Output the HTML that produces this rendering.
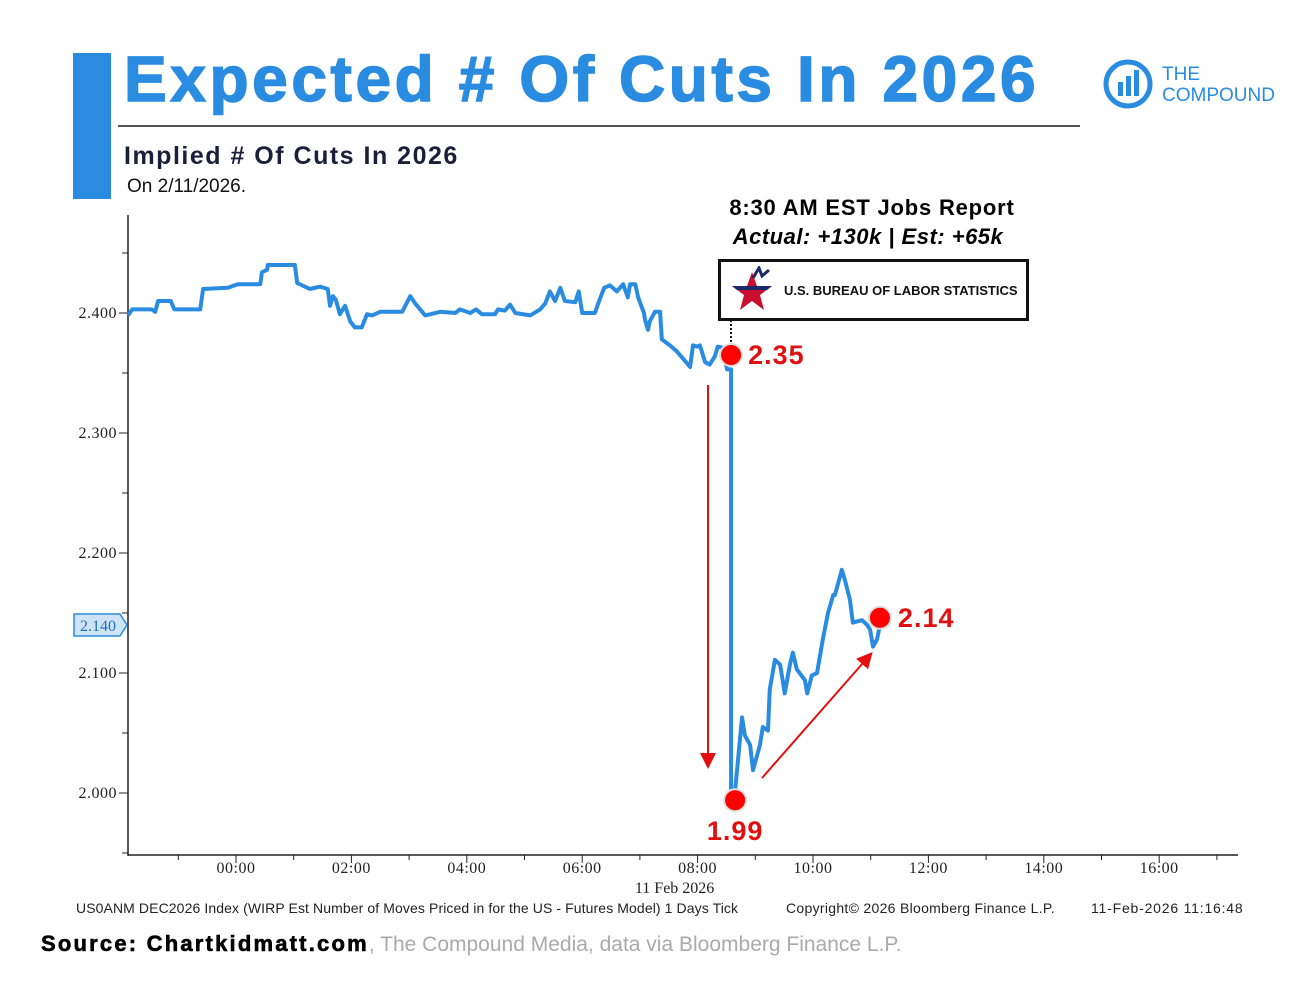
<!DOCTYPE html>
<html><head><meta charset="utf-8"><style>
body{margin:0;background:#fff;width:1312px;height:984px;overflow:hidden;font-family:"Liberation Sans",sans-serif;position:relative}
.a{position:absolute;white-space:nowrap}
</style></head><body>
<div class="a" style="left:73px;top:53px;width:38px;height:146px;background:#2a8ce0"></div>
<div class="a" style="left:124px;top:42px;font-size:64px;font-weight:bold;color:#2a8ce0;letter-spacing:3.6px;-webkit-text-stroke:1.5px #2a8ce0">Expected # Of Cuts In 2026</div>
<div class="a" style="left:118px;top:125px;width:962px;height:2px;background:#555"></div>
<div class="a" style="left:1100px;top:56px;width:190px;height:56px">
<svg width="60" height="56" viewBox="0 0 60 56"><circle cx="28" cy="28" r="22" fill="none" stroke="#2a8ce0" stroke-width="5"/><rect x="18" y="26" width="5" height="14" fill="#2a8ce0"/><rect x="26" y="20" width="5" height="20" fill="#2a8ce0"/><rect x="34" y="14" width="5" height="26" fill="#2a8ce0"/></svg>
<div class="a" style="left:62px;top:8px;font-size:19px;color:#2a8ce0;line-height:21px">THE<br>COMPOUND</div></div>
<div class="a" style="left:124px;top:142px;font-size:25px;font-weight:bold;color:#1a1f3a;letter-spacing:1.5px">Implied # Of Cuts In 2026</div>
<div class="a" style="left:127px;top:176px;font-size:19px;color:#111">On 2/11/2026.</div>
<div class="a" style="left:872px;top:195px;transform:translateX(-50%);font-size:22px;font-weight:bold;letter-spacing:0.8px">8:30 AM EST Jobs Report</div>
<div class="a" style="left:868px;top:224px;transform:translateX(-50%);font-size:22px;font-weight:bold;font-style:italic;letter-spacing:0.5px">Actual: +130k | Est: +65k</div>
<div class="a" style="left:718px;top:259px;width:305px;height:56px;border:3px solid #111;background:#fff">
<svg class="a" style="left:8px;top:4px" width="46" height="48" viewBox="0 0 46 48"><polygon points="23,6 28,20 43,20 31,29 35,44 23,35 11,44 15,29 3,20 18,20" fill="#c8102e"/><polygon points="3,20 43,20 38,24 8,24" fill="#1b2a6b"/><path d="M24 12 L30 2 L33 10 L40 4" stroke="#1b2a6b" stroke-width="3" fill="none"/></svg>
<div class="a" style="left:63px;top:21px;font-size:13px;font-weight:bold;color:#111">U.S. BUREAU OF LABOR STATISTICS</div></div>
<svg class="a" style="left:0;top:0" width="1312" height="984" id="chart"></svg>
<div class="a" style="left:76px;top:900px;font-size:14px;color:#222;letter-spacing:0.1px">US0ANM DEC2026 Index (WIRP Est Number of Moves Priced in for the US - Futures Model) 1 Days Tick</div>
<div class="a" style="left:786px;top:900px;font-size:14px;color:#222;letter-spacing:0.3px">Copyright© 2026 Bloomberg Finance L.P.</div>
<div class="a" style="left:1091px;top:900px;font-size:14px;color:#222;letter-spacing:0.8px">11-Feb-2026 11:16:48</div>
<div class="a" style="left:41px;top:931px;font-size:21px;color:#aaa"><b style="color:#000;font-size:22px;letter-spacing:2.2px;-webkit-text-stroke:0.6px #000">Source: Chartkidmatt.com</b>, The Compound Media, data via Bloomberg Finance L.P.</div>
<script>
const yTicks=[2.0,2.1,2.2,2.3,2.4];
const xTickHours=[0,2,4,6,8,10,12,14,16];
const xTickLabels=["00:00","02:00","04:00","06:00","08:00","10:00","12:00","14:00","16:00"];
const times=[-1.87,-1.80,-1.46,-1.40,-1.35,-1.13,-1.07,-0.62,-0.57,-0.14,0.03,0.42,0.45,0.54,0.55,1.02,1.06,1.28,1.46,1.59,1.63,1.68,1.73,1.80,1.89,1.98,2.06,2.18,2.27,2.36,2.50,2.88,3.02,3.12,3.28,3.54,3.80,3.88,4.06,4.16,4.26,4.49,4.54,4.66,4.75,4.84,5.10,5.27,5.36,5.44,5.53,5.62,5.70,5.88,5.94,6.00,6.22,6.27,6.38,6.48,6.60,6.71,6.79,6.83,6.92,6.97,7.07,7.09,7.14,7.17,7.26,7.35,7.38,7.52,7.64,7.73,7.80,7.87,7.92,7.99,8.04,8.13,8.21,8.30,8.35,8.44,8.51,8.58,8.58,8.58,8.65,8.77,8.82,8.91,8.96,9.08,9.13,9.22,9.25,9.34,9.43,9.51,9.60,9.65,9.72,9.86,9.90,9.98,10.07,10.17,10.26,10.35,10.38,10.50,10.55,10.64,10.69,10.85,10.94,10.99,11.04,11.11,11.16];
const values=[2.398,2.403,2.403,2.401,2.410,2.410,2.403,2.403,2.420,2.421,2.424,2.424,2.434,2.436,2.440,2.440,2.425,2.420,2.422,2.420,2.406,2.414,2.411,2.399,2.406,2.393,2.388,2.388,2.399,2.398,2.401,2.401,2.414,2.407,2.398,2.401,2.400,2.403,2.400,2.403,2.399,2.399,2.403,2.402,2.407,2.400,2.398,2.403,2.408,2.418,2.410,2.421,2.410,2.409,2.418,2.400,2.400,2.407,2.421,2.423,2.418,2.424,2.413,2.424,2.424,2.413,2.400,2.394,2.386,2.393,2.401,2.401,2.378,2.373,2.368,2.363,2.359,2.355,2.373,2.372,2.373,2.359,2.357,2.364,2.372,2.371,2.353,2.353,2.119,2.002,2.002,2.063,2.048,2.040,2.019,2.040,2.055,2.052,2.086,2.111,2.107,2.083,2.107,2.117,2.103,2.094,2.083,2.098,2.100,2.128,2.150,2.165,2.165,2.186,2.178,2.161,2.142,2.144,2.140,2.136,2.122,2.128,2.140];
const markers=[[8.58,2.365,"2.35"],[8.65,1.994,"1.99"],[11.16,2.146,"2.14"]];
const NS="http://www.w3.org/2000/svg",svg=document.getElementById("chart");
const X=h=>236+h*57.7, Y=v=>313+(2.4-v)*1200;
function el(t,a){const e=document.createElementNS(NS,t);for(const k in a)e.setAttribute(k,a[k]);svg.appendChild(e);return e;}
let e=el("line",{x1:128,y1:215,x2:128,y2:856,stroke:"#222","stroke-width":1.5});


e=el("line",{x1:128,y1:855,x2:1238,y2:855,stroke:"#222","stroke-width":1.5});


for(let v=1.95;v<=2.451;v+=0.05){el("line",{x1:122,x2:128,y1:Y(v),y2:Y(v),stroke:"#222"});}
yTicks.forEach(v=>{el("line",{x1:119,x2:128,y1:Y(v),y2:Y(v),stroke:"#222"});
const t=el("text",{x:117,y:Y(v)+5,"text-anchor":"end","font-family":"Liberation Serif,serif","font-size":16,"letter-spacing":0.5,fill:"#222"});t.textContent=v.toFixed(3);

});
for(let h=-1;h<=17;h++){el("line",{x1:X(h),x2:X(h),y1:855,y2:h%2==0?863:860,stroke:"#222"});}
xTickHours.forEach((h,i)=>{const t=el("text",{x:X(h),y:873,"text-anchor":"middle","font-family":"Liberation Serif,serif","font-size":16,"letter-spacing":0.5,fill:"#222"});t.textContent=xTickLabels[i];

});
e=el("text",{x:X(8)-23,y:893,"text-anchor":"middle","font-family":"Liberation Serif,serif","font-size":16,fill:"#222"});e.textContent="11 Feb 2026";


const last=values[values.length-1];
e=el("path",{d:`M74 ${Y(last)-11}H120L127 ${Y(last)}L120 ${Y(last)+11}H74Z`,fill:"#cfe3f7",stroke:"#2a8ce0","stroke-width":1.5});


e=el("text",{x:98,y:Y(last)+6,"text-anchor":"middle","font-family":"Liberation Serif,serif","font-size":16,fill:"#1d6fc0"});e.textContent=last.toFixed(3);
e=el("polyline",{points:times.map((t,i)=>X(t)+","+Y(values[i])).join(" "),fill:"none",stroke:"#2a8ce0","stroke-width":4,"stroke-linejoin":"round"});


e=el("line",{x1:731,y1:320,x2:731,y2:345,stroke:"#111","stroke-width":2,"stroke-dasharray":"2,2"});
el("defs",{}).innerHTML='<marker id="ah" markerWidth="8" markerHeight="8" refX="6" refY="4" orient="auto"><path d="M0,0L8,4L0,8Z" fill="#e01010"/></marker>';
e=el("line",{x1:708,y1:385,x2:708,y2:765,stroke:"#e01010","stroke-width":2,"marker-end":"url(#ah)"});


e=el("line",{x1:762,y1:778,x2:870,y2:655,stroke:"#e01010","stroke-width":2,"marker-end":"url(#ah)"});


const lp=[[17,9],[0,40],[18,9]];
markers.forEach((m,i)=>{const c=el("circle",{cx:X(m[0]),cy:Y(m[1]),r:11,fill:"#f00",stroke:"#ddd","stroke-width":2});


const t=el("text",{x:X(m[0])+lp[i][0],y:Y(m[1])+lp[i][1],"text-anchor":i==1?"middle":"start","font-size":27,"font-weight":"bold","letter-spacing":1,fill:"#e01010"});t.textContent=m[2];

});
</script>
</body></html>
